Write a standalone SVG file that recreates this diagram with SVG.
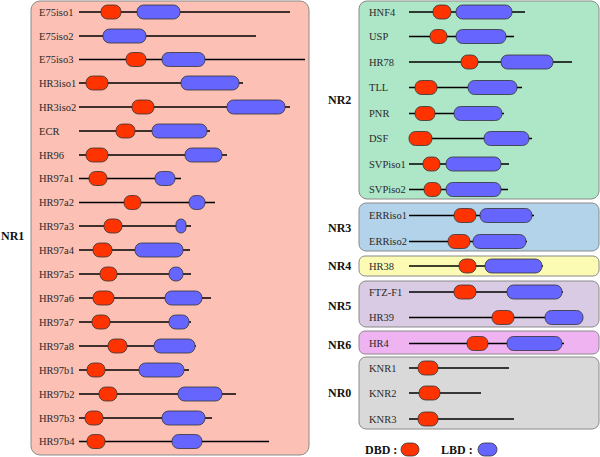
<svg xmlns="http://www.w3.org/2000/svg" width="600" height="457" viewBox="0 0 600 457">
<style>
.panel{stroke:#8a8a8a;stroke-width:1}
.lbl{font-family:"Liberation Serif","Times New Roman",serif;font-size:10.5px;fill:#2a2a2a}
.grp{font-family:"Liberation Serif","Times New Roman",serif;font-size:12px;font-weight:bold;fill:#111}
.ln{stroke:#000;stroke-width:1.6}
.dbd{fill:#ff3300;stroke:#333;stroke-width:0.8}
.lbd{fill:#6666ff;stroke:#333;stroke-width:0.8}
</style>
<rect x="0" y="0" width="600" height="457" fill="#fff"/>
<!-- panels -->
<g id="panel-NR1"><rect class="panel" x="31" y="1" width="278" height="454" rx="9" fill="#fcc0b4"/><text class="grp" x="1" y="240">NR1</text></g>
<g id="panel-NR2"><rect class="panel" x="359" y="1" width="240" height="198" rx="8" fill="#aee6c8"/><text class="grp" x="328" y="104">NR2</text></g>
<g id="panel-NR3"><rect class="panel" x="359" y="203" width="240" height="48" rx="7" fill="#b3d3ea"/><text class="grp" x="328" y="232">NR3</text></g>
<g id="panel-NR4"><rect class="panel" x="359" y="256" width="240" height="20" rx="6" fill="#fcfbb4"/><text class="grp" x="328" y="270">NR4</text></g>
<g id="panel-NR5"><rect class="panel" x="359" y="281" width="240" height="46" rx="7" fill="#d8cbe3"/><text class="grp" x="328" y="310">NR5</text></g>
<g id="panel-NR6"><rect class="panel" x="359" y="331" width="240" height="23" rx="6" fill="#efb3f2"/><text class="grp" x="328" y="349">NR6</text></g>
<g id="panel-NR0"><rect class="panel" x="359" y="357" width="240" height="72" rx="7" fill="#d9d9d9"/><text class="grp" x="328" y="397">NR0</text></g>

<!-- NR1 rows -->
<g id="E75iso1"><text class="lbl" x="39" y="15.5">E75iso1</text><line class="ln" x1="79" y1="12" x2="290" y2="12"/><rect class="dbd" x="101" y="5" width="20" height="14" rx="6.5"/><rect class="lbd" x="137" y="5" width="43" height="14" rx="6.5"/></g>
<g id="E75iso2"><text class="lbl" x="39" y="39.5">E75iso2</text><line class="ln" x1="79" y1="36" x2="256" y2="36"/><rect class="lbd" x="103" y="29" width="43" height="14" rx="6.5"/></g>
<g id="E75iso3"><text class="lbl" x="39" y="63">E75iso3</text><line class="ln" x1="79" y1="59.5" x2="305" y2="59.5"/><rect class="dbd" x="126" y="52.5" width="20" height="14" rx="6.5"/><rect class="lbd" x="162" y="52.5" width="43" height="14" rx="6.5"/></g>
<g id="HR3iso1"><text class="lbl" x="39" y="87">HR3iso1</text><line class="ln" x1="79" y1="83" x2="243" y2="83"/><rect class="dbd" x="86" y="76" width="22" height="14" rx="6.5"/><rect class="lbd" x="181" y="76" width="58" height="14" rx="6.5"/></g>
<g id="HR3iso2"><text class="lbl" x="39" y="110.5">HR3iso2</text><line class="ln" x1="79" y1="107" x2="290" y2="107"/><rect class="dbd" x="132" y="100" width="22" height="14" rx="6.5"/><rect class="lbd" x="227" y="100" width="58" height="14" rx="6.5"/></g>
<g id="ECR"><text class="lbl" x="39" y="134.5">ECR</text><line class="ln" x1="79" y1="131" x2="210" y2="131"/><rect class="dbd" x="116" y="124" width="19" height="14" rx="6.5"/><rect class="lbd" x="152" y="124" width="55" height="14" rx="6.5"/></g>
<g id="HR96"><text class="lbl" x="39" y="158.5">HR96</text><line class="ln" x1="79" y1="155" x2="227" y2="155"/><rect class="dbd" x="86" y="148" width="22" height="14" rx="6.5"/><rect class="lbd" x="185" y="148" width="37" height="14" rx="6.5"/></g>
<g id="HR97a1"><text class="lbl" x="39" y="182">HR97a1</text><line class="ln" x1="79" y1="178.5" x2="181" y2="178.5"/><rect class="dbd" x="89" y="171.5" width="18" height="14" rx="6.5"/><rect class="lbd" x="155" y="171.5" width="20" height="14" rx="6.5"/></g>
<g id="HR97a2"><text class="lbl" x="39" y="206">HR97a2</text><line class="ln" x1="79" y1="202.5" x2="215" y2="202.5"/><rect class="dbd" x="124" y="195.5" width="17" height="14" rx="6.5"/><rect class="lbd" x="189" y="195.5" width="16" height="14" rx="6.5"/></g>
<g id="HR97a3"><text class="lbl" x="39" y="229.5">HR97a3</text><line class="ln" x1="79" y1="226" x2="191" y2="226"/><rect class="dbd" x="104" y="219" width="18" height="14" rx="6.5"/><rect class="lbd" x="176" y="219" width="10" height="14" rx="5"/></g>
<g id="HR97a4"><text class="lbl" x="39" y="253.5">HR97a4</text><line class="ln" x1="79" y1="250" x2="190" y2="250"/><rect class="dbd" x="93" y="243" width="19" height="14" rx="6.5"/><rect class="lbd" x="135" y="243" width="48" height="14" rx="6.5"/></g>
<g id="HR97a5"><text class="lbl" x="39" y="277.5">HR97a5</text><line class="ln" x1="79" y1="274" x2="191" y2="274"/><rect class="dbd" x="100" y="267" width="17" height="14" rx="6.5"/><rect class="lbd" x="169" y="267" width="14" height="14" rx="6.5"/></g>
<g id="HR97a6"><text class="lbl" x="39" y="301.5">HR97a6</text><line class="ln" x1="79" y1="298" x2="211" y2="298"/><rect class="dbd" x="93" y="291" width="21" height="14" rx="6.5"/><rect class="lbd" x="165" y="291" width="37" height="14" rx="6.5"/></g>
<g id="HR97a7"><text class="lbl" x="39" y="325.5">HR97a7</text><line class="ln" x1="79" y1="322" x2="191" y2="322"/><rect class="dbd" x="92" y="315" width="18" height="14" rx="6.5"/><rect class="lbd" x="169" y="315" width="20" height="14" rx="6.5"/></g>
<g id="HR97a8"><text class="lbl" x="39" y="349.5">HR97a8</text><line class="ln" x1="79" y1="346" x2="196" y2="346"/><rect class="dbd" x="108" y="339" width="19" height="14" rx="6.5"/><rect class="lbd" x="154" y="339" width="41" height="14" rx="6.5"/></g>
<g id="HR97b1"><text class="lbl" x="39" y="373.5">HR97b1</text><line class="ln" x1="79" y1="370" x2="189" y2="370"/><rect class="dbd" x="87" y="363" width="18" height="14" rx="6.5"/><rect class="lbd" x="139" y="363" width="45" height="14" rx="6.5"/></g>
<g id="HR97b2"><text class="lbl" x="39" y="397.5">HR97b2</text><line class="ln" x1="79" y1="394" x2="236" y2="394"/><rect class="dbd" x="99" y="387" width="18" height="14" rx="6.5"/><rect class="lbd" x="178" y="387" width="44" height="14" rx="6.5"/></g>
<g id="HR97b3"><text class="lbl" x="39" y="421.5">HR97b3</text><line class="ln" x1="79" y1="418" x2="212" y2="418"/><rect class="dbd" x="85" y="411" width="18" height="14" rx="6.5"/><rect class="lbd" x="162" y="411" width="43" height="14" rx="6.5"/></g>
<g id="HR97b4"><text class="lbl" x="39" y="445">HR97b4</text><line class="ln" x1="79" y1="441.5" x2="269" y2="441.5"/><rect class="dbd" x="87" y="434.5" width="18" height="14" rx="6.5"/><rect class="lbd" x="172" y="434.5" width="30" height="14" rx="6.5"/></g>

<!-- NR2 rows -->
<g id="HNF4"><text class="lbl" x="369" y="15.5">HNF4</text><line class="ln" x1="409" y1="12" x2="525" y2="12"/><rect class="dbd" x="433" y="5" width="18" height="14" rx="6.5"/><rect class="lbd" x="456" y="5" width="56" height="14" rx="6.5"/></g>
<g id="USP"><text class="lbl" x="369" y="40">USP</text><line class="ln" x1="409" y1="36.5" x2="514" y2="36.5"/><rect class="dbd" x="430" y="29.5" width="17" height="14" rx="6.5"/><rect class="lbd" x="456" y="29.5" width="50" height="14" rx="6.5"/></g>
<g id="HR78"><text class="lbl" x="369" y="65.5">HR78</text><line class="ln" x1="409" y1="62" x2="572" y2="62"/><rect class="dbd" x="461" y="55" width="17" height="14" rx="6.5"/><rect class="lbd" x="501" y="55" width="52" height="14" rx="6.5"/></g>
<g id="TLL"><text class="lbl" x="369" y="91">TLL</text><line class="ln" x1="409" y1="87.5" x2="522" y2="87.5"/><rect class="dbd" x="415" y="80.5" width="22" height="14" rx="6.5"/><rect class="lbd" x="468" y="80.5" width="49" height="14" rx="6.5"/></g>
<g id="PNR"><text class="lbl" x="369" y="117">PNR</text><line class="ln" x1="409" y1="113.5" x2="504" y2="113.5"/><rect class="dbd" x="415" y="106.5" width="20" height="14" rx="6.5"/><rect class="lbd" x="454" y="106.5" width="48" height="14" rx="6.5"/></g>
<g id="DSF"><text class="lbl" x="369" y="142">DSF</text><line class="ln" x1="409" y1="138.5" x2="532" y2="138.5"/><rect class="dbd" x="409" y="131.5" width="23" height="14" rx="6.5"/><rect class="lbd" x="484" y="131.5" width="45" height="14" rx="6.5"/></g>
<g id="SVPiso1"><text class="lbl" x="369" y="167.5">SVPiso1</text><line class="ln" x1="409" y1="164" x2="509" y2="164"/><rect class="dbd" x="423" y="157" width="17" height="14" rx="6.5"/><rect class="lbd" x="446" y="157" width="55" height="14" rx="6.5"/></g>
<g id="SVPiso2"><text class="lbl" x="369" y="193">SVPiso2</text><line class="ln" x1="409" y1="189.5" x2="508" y2="189.5"/><rect class="dbd" x="424" y="182.5" width="17" height="14" rx="6.5"/><rect class="lbd" x="446" y="182.5" width="55" height="14" rx="6.5"/></g>

<!-- NR3 -->
<g id="ERRiso1"><text class="lbl" x="369" y="219">ERRiso1</text><line class="ln" x1="409" y1="215.5" x2="534" y2="215.5"/><rect class="dbd" x="454" y="208.5" width="22" height="14" rx="6.5"/><rect class="lbd" x="480" y="208.5" width="52" height="14" rx="6.5"/></g>
<g id="ERRiso2"><text class="lbl" x="369" y="245">ERRiso2</text><line class="ln" x1="409" y1="241.5" x2="527" y2="241.5"/><rect class="dbd" x="448" y="234.5" width="22" height="14" rx="6.5"/><rect class="lbd" x="473" y="234.5" width="53" height="14" rx="6.5"/></g>
<!-- NR4 -->
<g id="HR38"><text class="lbl" x="369" y="269.5">HR38</text><line class="ln" x1="409" y1="266" x2="543" y2="266"/><rect class="dbd" x="459" y="259" width="17" height="14" rx="6.5"/><rect class="lbd" x="485" y="259" width="57" height="14" rx="6.5"/></g>
<!-- NR5 -->
<g id="FTZ-F1"><text class="lbl" x="369" y="295.5">FTZ-F1</text><line class="ln" x1="409" y1="292" x2="563" y2="292"/><rect class="dbd" x="454" y="285" width="22" height="14" rx="6.5"/><rect class="lbd" x="507" y="285" width="55" height="14" rx="6.5"/></g>
<g id="HR39"><text class="lbl" x="369" y="321">HR39</text><line class="ln" x1="409" y1="317.5" x2="583" y2="317.5"/><rect class="dbd" x="492" y="310.5" width="22" height="14" rx="6.5"/><rect class="lbd" x="545" y="310.5" width="38" height="14" rx="6.5"/></g>
<!-- NR6 -->
<g id="HR4"><text class="lbl" x="369" y="347">HR4</text><line class="ln" x1="409" y1="343.5" x2="564" y2="343.5"/><rect class="dbd" x="467" y="336.5" width="21" height="14" rx="6.5"/><rect class="lbd" x="507" y="336.5" width="55" height="14" rx="6.5"/></g>
<!-- NR0 -->
<g id="KNR1"><text class="lbl" x="369" y="371.5">KNR1</text><line class="ln" x1="409" y1="368" x2="509" y2="368"/><rect class="dbd" x="418" y="361" width="20" height="14" rx="6.5"/></g>
<g id="KNR2"><text class="lbl" x="369" y="396.5">KNR2</text><line class="ln" x1="409" y1="393" x2="481" y2="393"/><rect class="dbd" x="419" y="386" width="21" height="14" rx="6.5"/></g>
<g id="KNR3"><text class="lbl" x="369" y="422.5">KNR3</text><line class="ln" x1="409" y1="419" x2="514" y2="419"/><rect class="dbd" x="418" y="412" width="20" height="14" rx="6.5"/></g>

<!-- legend -->
<g id="legend">
<text class="grp" x="365" y="453.5">DBD :</text><rect class="dbd" x="401" y="443" width="18" height="13" rx="6.5"/>
<text class="grp" x="441" y="453.5">LBD :</text><rect class="lbd" x="478" y="443" width="19" height="13" rx="6.5"/>
</g>
</svg>
